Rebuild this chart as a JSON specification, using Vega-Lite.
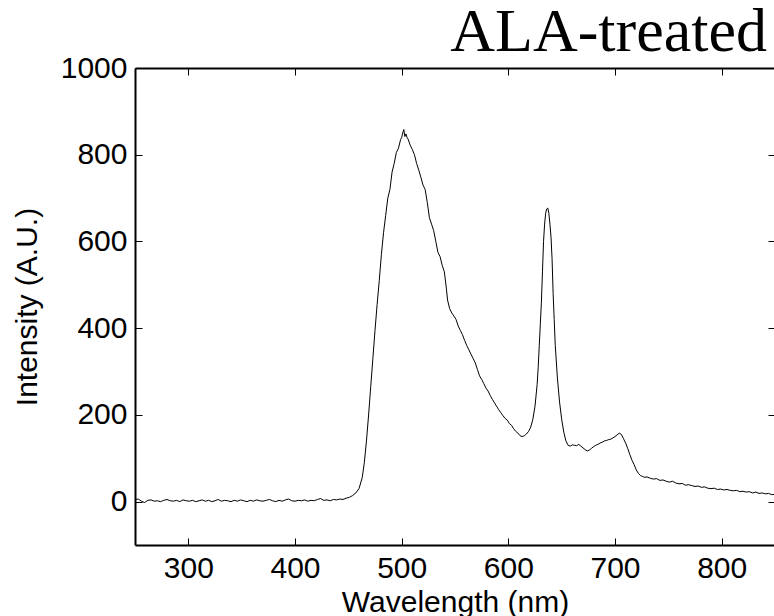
{
  "$schema": "https://vega.github.io/schema/vega-lite/v6.json",
  "width": 640,
  "height": 477,
  "autosize": {"type": "none"},
  "padding": {"left": 135, "top": 68, "right": 0, "bottom": 71},
  "background": "white",
  "config": {
    "view": {"stroke": null},
    "axis": {
      "grid": false,
      "domainColor": "black",
      "domainWidth": 2,
      "tickColor": "black",
      "tickWidth": 1,
      "tickSize": -7,
      "labelFont": "Liberation Sans",
      "labelFontSize": 30,
      "labelColor": "black",
      "titleFont": "Liberation Sans",
      "titleFontSize": 30,
      "titleFontWeight": "normal",
      "titleColor": "black"
    }
  },
  "title": {
    "text": "ALA-treated",
    "anchor": "end",
    "frame": "group",
    "font": "Liberation Serif",
    "fontSize": 62,
    "fontWeight": "normal",
    "color": "black",
    "baseline": "alphabetic",
    "offset": 13,
    "dx": -8,
    "dy": 73
  },
  "data": {
    "values": [
      {"nm": 250, "v": 5}, {"nm": 253, "v": 6}, {"nm": 256, "v": 1}, {"nm": 259, "v": -2}, {"nm": 262, "v": 3},
      {"nm": 265, "v": 4}, {"nm": 268, "v": 1}, {"nm": 271, "v": 2}, {"nm": 274, "v": 0}, {"nm": 277, "v": 3},
      {"nm": 280, "v": 5}, {"nm": 283, "v": 2}, {"nm": 286, "v": 1}, {"nm": 289, "v": 3}, {"nm": 292, "v": 0},
      {"nm": 295, "v": 4}, {"nm": 298, "v": 2}, {"nm": 301, "v": 1}, {"nm": 304, "v": 3}, {"nm": 307, "v": 0},
      {"nm": 310, "v": 2}, {"nm": 313, "v": 4}, {"nm": 316, "v": 1}, {"nm": 319, "v": 3}, {"nm": 322, "v": 0},
      {"nm": 325, "v": 2}, {"nm": 328, "v": 5}, {"nm": 331, "v": 1}, {"nm": 334, "v": 3}, {"nm": 337, "v": 2},
      {"nm": 340, "v": 0}, {"nm": 343, "v": 3}, {"nm": 346, "v": 1}, {"nm": 349, "v": 4}, {"nm": 352, "v": 2},
      {"nm": 355, "v": 0}, {"nm": 358, "v": 3}, {"nm": 361, "v": 1}, {"nm": 364, "v": 4}, {"nm": 367, "v": 2},
      {"nm": 370, "v": 1}, {"nm": 373, "v": 3}, {"nm": 376, "v": 5}, {"nm": 379, "v": 2}, {"nm": 382, "v": 0},
      {"nm": 385, "v": 3}, {"nm": 388, "v": 1}, {"nm": 391, "v": 4}, {"nm": 394, "v": 6}, {"nm": 397, "v": 2},
      {"nm": 400, "v": 1}, {"nm": 403, "v": 3}, {"nm": 406, "v": 2}, {"nm": 409, "v": 4}, {"nm": 412, "v": 1},
      {"nm": 415, "v": 3}, {"nm": 418, "v": 2}, {"nm": 421, "v": 5}, {"nm": 424, "v": 7}, {"nm": 427, "v": 3},
      {"nm": 430, "v": 4}, {"nm": 433, "v": 2}, {"nm": 436, "v": 5}, {"nm": 439, "v": 4}, {"nm": 442, "v": 6},
      {"nm": 445, "v": 5}, {"nm": 448, "v": 8}, {"nm": 451, "v": 10}, {"nm": 454, "v": 14}, {"nm": 457, "v": 20},
      {"nm": 460, "v": 30}, {"nm": 463, "v": 55}, {"nm": 465, "v": 90}, {"nm": 467, "v": 140}, {"nm": 469, "v": 200},
      {"nm": 471, "v": 265}, {"nm": 473, "v": 330}, {"nm": 475, "v": 395}, {"nm": 477, "v": 455}, {"nm": 479, "v": 510},
      {"nm": 481, "v": 570}, {"nm": 483, "v": 620}, {"nm": 485, "v": 660}, {"nm": 487, "v": 700}, {"nm": 489, "v": 720},
      {"nm": 491, "v": 760}, {"nm": 493, "v": 780}, {"nm": 495, "v": 805}, {"nm": 497, "v": 815}, {"nm": 499, "v": 835},
      {"nm": 500, "v": 840}, {"nm": 501, "v": 850}, {"nm": 502, "v": 858}, {"nm": 503, "v": 842}, {"nm": 504, "v": 848},
      {"nm": 505, "v": 840}, {"nm": 506, "v": 836}, {"nm": 508, "v": 822}, {"nm": 510, "v": 812}, {"nm": 512, "v": 800},
      {"nm": 514, "v": 780}, {"nm": 516, "v": 765}, {"nm": 518, "v": 748}, {"nm": 520, "v": 730}, {"nm": 522, "v": 720},
      {"nm": 524, "v": 690}, {"nm": 526, "v": 655}, {"nm": 528, "v": 640}, {"nm": 530, "v": 625}, {"nm": 532, "v": 600},
      {"nm": 534, "v": 575}, {"nm": 536, "v": 565}, {"nm": 538, "v": 545}, {"nm": 540, "v": 530}, {"nm": 542, "v": 490},
      {"nm": 543, "v": 465}, {"nm": 545, "v": 445}, {"nm": 547, "v": 435}, {"nm": 549, "v": 428}, {"nm": 551, "v": 420},
      {"nm": 553, "v": 405}, {"nm": 555, "v": 395}, {"nm": 557, "v": 385}, {"nm": 559, "v": 372}, {"nm": 561, "v": 360},
      {"nm": 563, "v": 350}, {"nm": 565, "v": 340}, {"nm": 567, "v": 330}, {"nm": 569, "v": 320}, {"nm": 571, "v": 305},
      {"nm": 573, "v": 290}, {"nm": 575, "v": 282}, {"nm": 577, "v": 272}, {"nm": 579, "v": 262}, {"nm": 581, "v": 255},
      {"nm": 583, "v": 245}, {"nm": 585, "v": 236}, {"nm": 587, "v": 228}, {"nm": 589, "v": 220}, {"nm": 591, "v": 212},
      {"nm": 593, "v": 205}, {"nm": 595, "v": 198}, {"nm": 597, "v": 192}, {"nm": 599, "v": 188}, {"nm": 601, "v": 180},
      {"nm": 603, "v": 176}, {"nm": 605, "v": 168}, {"nm": 607, "v": 162}, {"nm": 609, "v": 158}, {"nm": 611, "v": 152},
      {"nm": 613, "v": 150}, {"nm": 615, "v": 152}, {"nm": 617, "v": 156}, {"nm": 619, "v": 162}, {"nm": 621, "v": 172},
      {"nm": 623, "v": 190}, {"nm": 625, "v": 220}, {"nm": 627, "v": 270}, {"nm": 628, "v": 310}, {"nm": 629, "v": 360},
      {"nm": 630, "v": 410}, {"nm": 631, "v": 460}, {"nm": 632, "v": 530}, {"nm": 633, "v": 600}, {"nm": 634, "v": 640},
      {"nm": 635, "v": 665}, {"nm": 636, "v": 675}, {"nm": 637, "v": 677}, {"nm": 638, "v": 665}, {"nm": 639, "v": 640},
      {"nm": 640, "v": 610}, {"nm": 641, "v": 560}, {"nm": 642, "v": 480}, {"nm": 643, "v": 420}, {"nm": 644, "v": 360},
      {"nm": 646, "v": 285}, {"nm": 648, "v": 230}, {"nm": 650, "v": 190}, {"nm": 652, "v": 160}, {"nm": 654, "v": 140},
      {"nm": 656, "v": 130}, {"nm": 658, "v": 128}, {"nm": 660, "v": 131}, {"nm": 662, "v": 130}, {"nm": 664, "v": 129},
      {"nm": 666, "v": 132}, {"nm": 668, "v": 128}, {"nm": 670, "v": 124}, {"nm": 672, "v": 120}, {"nm": 674, "v": 117},
      {"nm": 676, "v": 119}, {"nm": 678, "v": 123}, {"nm": 680, "v": 127}, {"nm": 682, "v": 130}, {"nm": 684, "v": 132},
      {"nm": 686, "v": 135}, {"nm": 688, "v": 137}, {"nm": 690, "v": 140}, {"nm": 692, "v": 141}, {"nm": 694, "v": 143},
      {"nm": 696, "v": 144}, {"nm": 698, "v": 147}, {"nm": 700, "v": 150}, {"nm": 702, "v": 154}, {"nm": 704, "v": 158},
      {"nm": 706, "v": 155}, {"nm": 708, "v": 145}, {"nm": 710, "v": 135}, {"nm": 712, "v": 122}, {"nm": 714, "v": 108},
      {"nm": 716, "v": 95}, {"nm": 718, "v": 85}, {"nm": 720, "v": 73}, {"nm": 722, "v": 65}, {"nm": 724, "v": 60},
      {"nm": 726, "v": 58}, {"nm": 728, "v": 56}, {"nm": 730, "v": 57}, {"nm": 733, "v": 54}, {"nm": 736, "v": 52},
      {"nm": 739, "v": 53}, {"nm": 742, "v": 49}, {"nm": 745, "v": 50}, {"nm": 748, "v": 47}, {"nm": 751, "v": 45},
      {"nm": 754, "v": 47}, {"nm": 757, "v": 43}, {"nm": 760, "v": 41}, {"nm": 763, "v": 42}, {"nm": 766, "v": 38},
      {"nm": 769, "v": 39}, {"nm": 772, "v": 37}, {"nm": 775, "v": 35}, {"nm": 778, "v": 36}, {"nm": 781, "v": 33},
      {"nm": 784, "v": 34}, {"nm": 787, "v": 31}, {"nm": 790, "v": 30}, {"nm": 793, "v": 31}, {"nm": 796, "v": 28},
      {"nm": 799, "v": 29}, {"nm": 802, "v": 27}, {"nm": 805, "v": 28}, {"nm": 808, "v": 26}, {"nm": 811, "v": 25},
      {"nm": 814, "v": 26}, {"nm": 817, "v": 23}, {"nm": 820, "v": 24}, {"nm": 823, "v": 22}, {"nm": 826, "v": 23},
      {"nm": 829, "v": 20}, {"nm": 832, "v": 22}, {"nm": 835, "v": 19}, {"nm": 838, "v": 20}, {"nm": 841, "v": 18},
      {"nm": 844, "v": 19}, {"nm": 847, "v": 16}, {"nm": 850, "v": 17}
    ]
  },
  "layer": [
    {
      "mark": {"type": "line", "color": "black", "strokeWidth": 1},
      "encoding": {
        "x": {
          "field": "nm", "type": "quantitative",
          "scale": {"domain": [250, 850], "nice": false, "zero": false},
          "axis": {"orient": "bottom", "values": [300, 400, 500, 600, 700, 800], "labelPadding": 15,
                   "title": "Wavelength (nm)", "titleY": 66, "titleBaseline": "alphabetic"}
        },
        "y": {
          "field": "v", "type": "quantitative",
          "scale": {"domain": [-100, 1000], "nice": false, "zero": false},
          "axis": {"orient": "left", "values": [0, 200, 400, 600, 800, 1000], "format": "d", "labelPadding": 15,
                   "title": "Intensity (A.U.)", "titleX": -99, "titleY": 238.5, "titleAngle": -90,
                   "titleBaseline": "alphabetic", "titleAlign": "center"}
        }
      }
    },
    {
      "mark": {"type": "line", "strokeOpacity": 0},
      "encoding": {
        "x": {
          "field": "nm", "type": "quantitative",
          "scale": {"domain": [250, 850], "nice": false, "zero": false},
          "axis": {"orient": "top", "values": [300, 400, 500, 600, 700, 800], "labels": false, "title": null}
        },
        "y": {
          "field": "v", "type": "quantitative",
          "scale": {"domain": [-100, 1000], "nice": false, "zero": false},
          "axis": {"orient": "right", "values": [0, 200, 400, 600, 800, 1000], "labels": false, "title": null}
        }
      }
    }
  ],
  "resolve": {"axis": {"x": "independent", "y": "independent"}}
}
